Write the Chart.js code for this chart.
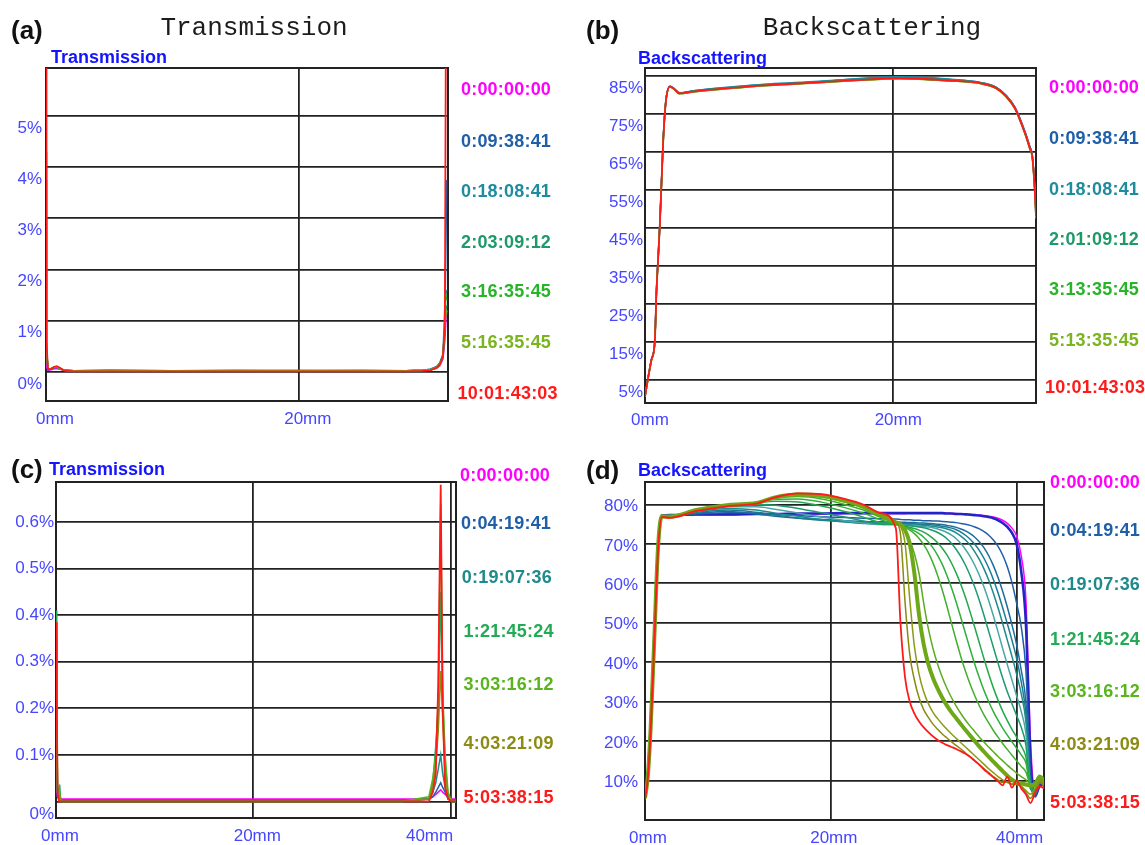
<!DOCTYPE html>
<html>
<head>
<meta charset="utf-8">
<title>Transmission and Backscattering profiles</title>
<script src="https://cdn.jsdelivr.net/npm/chart.js@4.4.1/dist/chart.umd.min.js"></script>
<style>
  html, body { margin:0; padding:0; background:#ffffff; }
  body { position:relative; width:1145px; height:845px; overflow:hidden; font-family:"Liberation Sans", Arial, sans-serif; }
  canvas { position:absolute; }
  .txt { position:absolute; white-space:nowrap; line-height:1; transform:translateY(-50%); }
  .big { font-family:"Liberation Mono", "DejaVu Sans Mono", monospace; font-size:26px; color:#1c1c1c; transform:translate(-50%,-50%); }
  .letter { font-weight:bold; font-size:26px; color:#111111; }
  .sub { font-weight:bold; font-size:18px; color:#1414ff; }
  .leg { font-weight:bold; font-size:18px; letter-spacing:0.2px; }
</style>
</head>
<body>
<canvas id="cA" width="570" height="440" style="left:0px;top:0px"></canvas>
<canvas id="cB" width="575" height="440" style="left:570px;top:0px"></canvas>
<canvas id="cC" width="570" height="405" style="left:0px;top:440px"></canvas>
<canvas id="cD" width="575" height="405" style="left:570px;top:440px"></canvas>
<script>
// ===================== DATA =====================
// ---- Panel (a): Transmission (%), position in mm ----
const posA = [0, 0.04, 0.15, 0.4, 0.65, 0.85, 1.1, 1.4, 2.2, 5, 10, 15, 20, 25, 28.5, 29.8, 30.4, 30.9, 31.15, 31.4, 31.55, 31.63, 31.7];
const transA_t0 = [0.3, 0.1, 0.03, 0.04, 0.06, 0.06, 0.05, 0.03, 0.02, 0.02, 0.02, 0.02, 0.02, 0.02, 0.02, 0.03, 0.04, 0.07, 0.12, 0.25, 0.6, 1.0, 1.2];
const transA_t1 = [4.3, 0.4, 0.04, 0.05, 0.08, 0.09, 0.07, 0.03, 0.02, 0.03, 0.02, 0.03, 0.02, 0.03, 0.02, 0.03, 0.05, 0.1, 0.16, 0.32, 0.8, 2.4, 3.75];
const transA_t2 = [3.75, 0.5, 0.05, 0.06, 0.09, 0.1, 0.07, 0.03, 0.02, 0.03, 0.02, 0.02, 0.03, 0.02, 0.02, 0.03, 0.05, 0.1, 0.18, 0.35, 1.28, 1.5, 1.6];
const transA_t3 = [3.0, 0.5, 0.05, 0.06, 0.09, 0.1, 0.07, 0.03, 0.02, 0.02, 0.02, 0.02, 0.02, 0.02, 0.02, 0.03, 0.04, 0.09, 0.15, 0.3, 0.9, 1.2, 1.3];
const transA_t4 = [2.0, 0.5, 0.05, 0.06, 0.1, 0.1, 0.07, 0.03, 0.02, 0.02, 0.02, 0.02, 0.02, 0.02, 0.02, 0.03, 0.04, 0.09, 0.15, 0.3, 0.9, 1.5, 1.4];
const transA_t5 = [1.0, 0.5, 0.05, 0.06, 0.1, 0.1, 0.07, 0.03, 0.02, 0.02, 0.02, 0.02, 0.02, 0.02, 0.02, 0.03, 0.04, 0.08, 0.14, 0.3, 0.9, 1.1, 1.2];
const transA_t6 = [6.5, 0.6, 0.05, 0.06, 0.1, 0.11, 0.08, 0.03, 0.01, 0.01, 0.01, 0.01, 0.01, 0.01, 0.01, 0.02, 0.03, 0.08, 0.14, 0.3, 0.9, 6.5, 6.5];
const timesA = ['0:00:00:00', '0:09:38:41', '0:18:08:41', '2:03:09:12', '3:16:35:45', '5:16:35:45', '10:01:43:03'];
const yTicksA = [0, 1, 2, 3, 4, 5];
const yLabelsA = ['0%', '1%', '2%', '3%', '4%', '5%'];
const xTicksA = [0, 20];
const xLabelsA = ['0mm', '20mm'];

// ---- Panel (b): Backscattering (%), position in mm ----
const posB = [0, 0.25, 0.52, 0.79, 0.92, 1.06, 1.19, 1.33, 1.46, 1.6, 1.73, 2.0, 2.27, 2.8, 3.9, 6.8, 10, 14, 17, 20.5, 24.5, 27, 28.3, 29.1, 29.8, 30.6, 31.0, 31.2, 31.4, 31.5];
const backB_t0 = [0.8, 5.8, 10.5, 15.3, 28.5, 37.5, 46, 57.5, 68, 75.6, 79.8, 82.3, 81.9, 80.5, 81.0, 81.9, 82.6, 83.4, 84.0, 84.5, 83.9, 83.2, 81.9, 79.8, 76.8, 70.5, 66.5, 64.2, 56.0, 50.5];
const backB_t1 = [0.7, 5.6, 10.4, 15.2, 28.0, 37.2, 45.6, 57.0, 67.6, 75.4, 79.7, 82.3, 81.9, 80.5, 81.1, 82.0, 82.8, 83.5, 84.2, 84.7, 84.1, 83.3, 82.0, 79.8, 76.7, 70.3, 66.3, 64.0, 55.5, 49.0];
const backB_t2 = [0.7, 5.6, 10.4, 15.2, 28.2, 37.4, 45.8, 57.2, 67.8, 75.5, 79.7, 82.2, 81.9, 80.6, 81.1, 82.1, 82.9, 83.6, 84.3, 84.8, 84.2, 83.3, 82.0, 79.9, 76.8, 70.4, 66.4, 64.1, 55.8, 49.5];
const backB_t3 = [0.6, 5.5, 10.3, 15.1, 28.0, 37.2, 45.6, 57.0, 67.5, 75.3, 79.6, 82.2, 81.8, 80.5, 81.0, 81.9, 82.7, 83.4, 84.0, 84.5, 83.9, 83.2, 81.9, 79.7, 76.6, 70.2, 66.2, 63.9, 55.2, 48.5];
const backB_t4 = [0.6, 5.4, 10.2, 15.0, 27.6, 36.8, 45.2, 56.6, 67.1, 75.1, 79.5, 82.1, 81.7, 80.3, 80.8, 81.7, 82.5, 83.2, 83.8, 84.3, 83.7, 83.0, 81.7, 79.5, 76.4, 69.9, 65.8, 63.6, 54.6, 47.5];
const backB_t5 = [0.6, 5.4, 10.2, 15.0, 27.7, 36.9, 45.3, 56.7, 67.2, 75.1, 79.5, 82.1, 81.7, 80.3, 80.8, 81.7, 82.5, 83.2, 83.8, 84.3, 83.7, 83.0, 81.7, 79.5, 76.4, 69.9, 65.9, 63.7, 54.8, 47.8];
const backB_t6 = [0.6, 5.5, 10.3, 15.1, 27.8, 37.0, 45.4, 56.8, 67.3, 75.2, 79.6, 82.2, 81.8, 80.4, 80.9, 81.8, 82.6, 83.3, 83.9, 84.4, 83.8, 83.1, 81.8, 79.6, 76.5, 70.0, 66.0, 63.8, 55.0, 48.0];
const timesB = ['0:00:00:00', '0:09:38:41', '0:18:08:41', '2:01:09:12', '3:13:35:45', '5:13:35:45', '10:01:43:03'];
const yTicksB = [5, 15, 25, 35, 45, 55, 65, 75, 85];
const yLabelsB = ['5%', '15%', '25%', '35%', '45%', '55%', '65%', '75%', '85%'];
const xTicksB = [0, 20];
const xLabelsB = ['0mm', '20mm'];

// ---- Panel (c): Transmission (%), position in mm ----
const posC = [0, 0.08, 0.16, 0.3, 0.37, 0.45, 0.6, 5, 15, 25, 35, 37.8, 38.2, 38.5, 38.75, 39.0, 39.2, 39.45, 39.75, 40.1, 40.55];
const transC_t0 = [0.05, 0.02, 0.01, 0.005, 0.005, 0.005, 0.005, 0.005, 0.005, 0.005, 0.005, 0.005, 0.01, 0.015, 0.02, 0.025, 0.02, 0.015, 0.01, 0.005, 0.005];
const transC_t1 = [0.1, 0.04, 0.01, 0.005, 0.005, 0.005, 0.003, 0.003, 0.003, 0.003, 0.003, 0.005, 0.01, 0.02, 0.03, 0.04, 0.03, 0.02, 0.005, 0.003, 0.003];
const transC_t2 = [0.2, 0.08, 0.02, 0.005, 0.005, 0.003, 0.002, 0.002, 0.002, 0.002, 0.002, 0.005, 0.02, 0.04, 0.07, 0.1, 0.06, 0.03, 0.01, 0.002, 0.002];
const transC_t3 = [0.41, 0.25, 0.03, 0.02, 0.036, 0.01, 0.0, 0.0, 0.0, 0.0, 0.0, 0.005, 0.04, 0.12, 0.2, 0.45, 0.22, 0.08, 0.01, 0.0, 0.0];
const transC_t4 = [0.3, 0.15, 0.02, 0.01, 0.02, 0.005, 0.0, 0.0, 0.0, 0.0, 0.0, 0.01, 0.05, 0.1, 0.22, 0.64, 0.24, 0.1, 0.02, 0.0, 0.0];
const transC_t5 = [0.35, 0.18, 0.02, 0.005, 0.01, 0.0, 0.0, 0.0, 0.0, 0.0, 0.0, 0.005, 0.03, 0.08, 0.15, 0.28, 0.18, 0.06, 0.01, 0.0, 0.0];
const transC_t6 = [0.385, 0.2, 0.02, 0.0, 0.0, 0.0, 0.0, 0.0, 0.0, 0.0, 0.0, 0.0, 0.02, 0.06, 0.25, 0.68, 0.2, 0.03, 0.005, 0.0, 0.0];
const timesCD = ['0:00:00:00', '0:04:19:41', '0:19:07:36', '1:21:45:24', '3:03:16:12', '4:03:21:09', '5:03:38:15'];
const yTicksC = [0, 0.1, 0.2, 0.3, 0.4, 0.5, 0.6];
const yLabelsC = ['0%', '0.1%', '0.2%', '0.3%', '0.4%', '0.5%', '0.6%'];
const xTicksC = [0, 20, 40];
const xLabelsC = ['0mm', '20mm', '40mm'];

// ---- Panel (d): Backscattering (%), position in mm (scans from first to last) ----
const posD = [0, 0.3, 0.6, 1.0, 1.4, 1.8, 2.7, 5.5, 9, 12, 14, 16.5, 19, 21.5, 23.5, 25.3,
  27, 27.5, 28, 28.5, 29, 29.5, 30, 30.5, 31, 31.5, 32, 32.5, 33, 33.5, 34, 34.5, 35, 35.5, 36, 36.5, 37, 37.5, 38, 38.5, 39, 39.5, 40, 40.5, 41, 41.5, 42, 42.5, 43];
const backD_s01 = [5.8, 11.3, 23, 46, 69, 77.2, 77.3, 77.4, 77.4, 77.5, 77.5, 77.6, 77.6, 77.7, 77.7, 77.7,
  77.7, 77.7, 77.7, 77.8, 77.8, 77.8, 77.8, 77.8, 77.8, 77.8, 77.8, 77.8, 77.7, 77.7, 77.6, 77.6, 77.5, 77.4, 77.3, 77.2, 77.0, 76.8, 76.5, 76.0, 75.2, 74.0, 72.0, 67.0, 56.0, 20.0, 7.0, 8.5, 9.0];
const backD_s02 = [5.8, 11.3, 23, 46, 69, 77.2, 77.3, 77.5, 77.5, 77.6, 77.6, 77.7, 77.7, 77.8, 77.8, 77.8,
  77.8, 77.8, 77.8, 77.8, 77.8, 77.8, 77.8, 77.8, 77.8, 77.8, 77.8, 77.7, 77.7, 77.6, 77.6, 77.5, 77.4, 77.3, 77.2, 77.0, 76.8, 76.5, 76.0, 75.3, 74.3, 72.8, 70.0, 63.0, 50.0, 15.0, 6.0, 8.8, 9.2];
const backD_s03 = [5.8, 11.3, 23, 46, 69, 77.2, 77.3, 77.6, 77.9, 77.8, 77.5, 77.2, 76.9, 76.7, 76.5, 76.4,
  76.3, 76.2, 76.1, 76.1, 76.0, 76.0, 75.9, 75.9, 75.8, 75.8, 75.7, 75.6, 75.5, 75.4, 75.2, 75.0, 74.7, 74.3, 73.8, 73.1, 72.2, 71.0, 69.4, 67.2, 64.2, 60.2, 55.0, 49.0, 38.0, 12.0, 6.0, 9.2, 9.5];
const backD_s04 = [5.8, 11.3, 23, 46, 69, 77.2, 77.3, 77.8, 78.2, 77.6, 77.0, 76.5, 76.2, 75.9, 75.7, 75.6,
  75.6, 75.5, 75.5, 75.4, 75.4, 75.3, 75.3, 75.2, 75.1, 75.0, 74.9, 74.7, 74.5, 74.2, 73.8, 73.3, 72.6, 71.7, 70.5, 69.0, 67.0, 64.5, 61.5, 58.0, 54.0, 49.5, 44.5, 38.0, 30.0, 10.0, 6.5, 9.5, 9.3];
const backD_s05 = [5.7, 11.2, 23, 46, 69, 77.1, 77.2, 78.0, 78.6, 78.0, 77.3, 76.6, 76.0, 75.6, 75.4, 75.3,
  75.3, 75.2, 75.2, 75.1, 75.1, 75.0, 75.0, 74.9, 74.8, 74.7, 74.5, 74.3, 74.0, 73.6, 73.0, 72.2, 71.2, 69.9, 68.3, 66.3, 63.9, 61.0, 57.6, 53.8, 49.8, 45.6, 41.0, 35.0, 27.0, 9.0, 6.5, 9.8, 9.2];
const backD_s06 = [5.7, 11.2, 23, 46, 69, 77.1, 77.2, 78.2, 79.0, 78.6, 77.8, 77.0, 76.2, 75.6, 75.2, 75.0,
  75.0, 75.0, 74.9, 74.9, 74.8, 74.8, 74.7, 74.6, 74.5, 74.3, 74.1, 73.8, 73.4, 72.8, 72.0, 71.0, 69.7, 68.0, 66.0, 63.6, 60.8, 57.5, 53.8, 49.8, 45.6, 41.5, 37.0, 32.0, 25.0, 8.5, 6.8, 10.0, 9.0];
const backD_s07 = [5.7, 11.2, 23, 46, 69, 77.1, 77.2, 78.3, 79.4, 79.4, 78.8, 77.8, 76.8, 75.9, 75.3, 74.9,
  74.9, 74.8, 74.8, 74.7, 74.6, 74.5, 74.4, 74.3, 74.1, 73.8, 73.4, 72.9, 72.2, 71.3, 70.1, 68.6, 66.8, 64.6, 62.0, 59.0, 55.6, 51.8, 47.7, 43.5, 39.4, 35.5, 31.5, 27.5, 22.0, 8.0, 7.0, 10.0, 9.0];
const backD_s08 = [5.6, 11, 23, 46, 69, 77.1, 77.1, 78.4, 79.6, 80.0, 79.8, 79.0, 77.9, 76.8, 75.8, 75.0,
  74.9, 74.8, 74.7, 74.6, 74.5, 74.3, 74.1, 73.8, 73.4, 72.9, 72.2, 71.3, 70.1, 68.6, 66.8, 64.6, 62.0, 59.0, 55.6, 51.8, 47.8, 43.8, 39.8, 36.0, 32.5, 29.5, 26.5, 23.5, 19.0, 8.0, 7.2, 10.2, 9.0];
const backD_s09 = [5.6, 11, 23, 46, 69, 77, 77, 78.5, 79.8, 80.4, 80.8, 80.6, 79.6, 78.2, 76.8, 75.4,
  74.9, 74.7, 74.5, 74.2, 73.9, 73.5, 73.0, 72.3, 71.4, 70.3, 68.9, 67.2, 65.1, 62.6, 59.7, 56.4, 52.7, 48.8, 44.8, 40.8, 37.0, 33.5, 30.4, 27.6, 25.2, 23.0, 21.0, 18.8, 16.0, 8.0, 7.5, 10.5, 9.2];
const backD_s10 = [5.6, 11, 23, 46, 69, 77, 77, 78.5, 79.8, 80.5, 81.3, 81.4, 80.6, 79.2, 77.8, 76.2,
  75.0, 74.7, 74.3, 73.9, 73.3, 72.6, 71.7, 70.5, 69.0, 67.1, 64.8, 62.0, 58.8, 55.2, 51.3, 47.3, 43.3, 39.5, 36.0, 32.8, 30.0, 27.5, 25.3, 23.3, 21.5, 19.8, 18.2, 16.5, 14.5, 8.5, 8.0, 10.8, 9.3];
const backD_s11 = [5.6, 11, 23, 46, 69, 77, 77, 78.6, 79.9, 80.5, 81.6, 82.0, 81.4, 80.0, 78.6, 76.8,
  75.2, 74.8, 74.2, 73.5, 72.6, 71.4, 69.8, 67.8, 65.2, 62.0, 58.3, 54.2, 49.8, 45.5, 41.4, 37.7, 34.4, 31.5, 28.9, 26.6, 24.6, 22.7, 21.0, 19.4, 17.9, 16.4, 15.0, 13.6, 12.2, 8.8, 8.5, 11.0, 9.5];
const backD_s12 = [5.5, 11, 23, 46, 69, 77, 76.9, 78.6, 79.9, 80.5, 81.7, 82.3, 81.9, 80.6, 79.1, 77.1,
  75.4, 74.6, 73.2, 71.0, 67.5, 62.5, 55.0, 48.5, 43.5, 39.5, 36.2, 33.4, 31.0, 28.9, 27.0, 25.3, 23.8, 22.4, 21.0, 19.7, 18.5, 17.3, 16.1, 15.0, 13.9, 12.9, 11.9, 11.0, 10.2, 9.0, 8.8, 11.0, 9.5];
const backD_s13 = [5.5, 11, 23, 46, 69, 77, 76.9, 78.6, 79.9, 80.4, 81.8, 82.5, 82.2, 80.9, 79.4, 77.3,
  75.5, 75.0, 73.5, 70.0, 62.5, 52.0, 44.5, 39.5, 36.0, 33.3, 31.0, 29.0, 27.3, 25.8, 24.3, 22.8, 21.4, 20.0, 18.6, 17.3, 16.0, 14.8, 13.6, 12.4, 11.2, 10.2, 9.6, 9.3, 9.0, 8.8, 9.2, 11.0, 10.0];
const backD_s14 = [5.5, 11, 23, 46, 69, 77, 76.8, 78.5, 79.8, 80.3, 81.9, 82.7, 82.4, 81.1, 79.6, 77.5,
  75.5, 74.5, 70.0, 56.0, 44.0, 37.0, 32.5, 29.5, 27.3, 25.7, 24.3, 23.0, 21.8, 20.7, 19.6, 18.5, 17.4, 16.3, 15.2, 14.1, 13.0, 12.0, 11.0, 10.2, 9.5, 9.2, 9.0, 8.6, 7.5, 6.5, 8.0, 10.0, 9.0];
const backD_s15 = [5.4, 10.8, 22.5, 45.5, 68.5, 76.9, 76.7, 78.4, 79.7, 80.2, 81.9, 82.8, 82.5, 81.3, 79.8, 77.7,
  75.6, 72.5, 55.0, 42.0, 35.5, 31.0, 28.0, 26.0, 24.3, 23.0, 21.8, 20.8, 19.8, 18.9, 18.0, 17.0, 16.0, 15.0, 14.0, 13.0, 12.0, 11.0, 10.2, 9.5, 9.6, 9.0, 9.2, 8.5, 7.0, 5.5, 7.5, 9.5, 8.5];
const backD_s16 = [5.2, 10.5, 22, 45, 68, 76.8, 76.6, 78.3, 79.6, 80.2, 81.8, 82.8, 82.6, 81.4, 80.0, 77.9,
  74.0, 50.0, 36.0, 30.0, 27.0, 25.0, 23.5, 22.3, 21.2, 20.3, 19.6, 19.0, 18.5, 18.0, 17.4, 16.8, 16.0, 15.0, 14.0, 12.8, 11.8, 10.8, 9.8, 8.8, 11.0, 8.2, 10.0, 8.0, 6.5, 4.3, 7.0, 8.5, 8.0];
const yTicksD = [10, 20, 30, 40, 50, 60, 70, 80];
const yLabelsD = ['10%', '20%', '30%', '40%', '50%', '60%', '70%', '80%'];
const xTicksD = [0, 20, 40];
const xLabelsD = ['0mm', '20mm', '40mm'];

// ===================== STYLE =====================
const TICK_BLUE = '#4646ff';
const GRID = '#222222';
const colorsAB = ['#ff00ff', '#1f5fa8', '#1e8c9c', '#1e9a6a', '#28b428', '#7ab41e', '#ff1a1a'];
const colorsCD = ['#ff00ff', '#1f5fa8', '#1e8a8a', '#22aa55', '#5ab41e', '#8c8c14', '#ff1a1a'];
const colorsD = ['#ff00ff', '#2323c8', '#1f5fa8', '#1d6c9c', '#1a7a92', '#1e8a8a', '#4aa6a6', '#1e9a72',
  '#22a84c', '#2eb03a', '#3fb02c', '#5cac20', '#6ea818', '#8c9a18', '#8a8a10', '#ff1a1a'];
const widthsD = [1.5, 2.6, 1.5, 1.5, 1.5, 1.5, 1.5, 1.5, 1.5, 1.5, 1.5, 1.5, 4, 1.5, 1.5, 1.8];
Chart.defaults.font.family = "'Liberation Sans', Arial, sans-serif";

const framePlugin = {
  id: 'frame',
  beforeDatasetsDraw(chart) {
    const a = chart.chartArea, ctx = chart.ctx;
    ctx.save();
    ctx.strokeStyle = GRID; ctx.lineWidth = 2;
    ctx.strokeRect(a.left, a.top, a.right - a.left, a.bottom - a.top);
    ctx.restore();
  }
};
function makeShift(shifts) {
  return {
    id: 'labelShift',
    beforeDraw(chart) {
      shifts.forEach(s => {
        try {
          const items = chart.scales[s.axis].getLabelItems();
          const it = items[s.index];
          if (it && it.options && it.options.translation) {
            it.options.translation[0] += s.dx;
            it.options.translation[1] += s.dy;
          }
        } catch (e) {}
      });
    }
  };
}

function buildPanel(id, p) {
  const datasets = p.series.map((ys, i) => ({
    data: p.xs.map((x, j) => ({ x: x, y: ys[j] })),
    borderColor: p.colors[i],
    borderWidth: p.widths[i],
    pointRadius: 0,
    fill: false,
    tension: 0,
    cubicInterpolationMode: p.smooth ? 'monotone' : 'default',
    order: p.series.length - 1 - i
  }));
  return new Chart(document.getElementById(id), {
    type: 'line',
    data: { datasets: datasets },
    options: {
      responsive: false, animation: false, devicePixelRatio: 1, events: [],
      layout: { padding: p.pad },
      plugins: { legend: { display: false }, tooltip: { enabled: false } },
      scales: {
        x: {
          type: 'linear', min: p.xMin, max: p.xMax,
          afterBuildTicks: s => { s.ticks = p.xTicks.map(v => ({ value: v })); },
          afterFit: s => { s.height = p.xH; },
          grid: { color: GRID, lineWidth: 1.8, drawTicks: false },
          border: { display: false },
          ticks: { autoSkip: false, maxRotation: 0, color: TICK_BLUE, font: { size: 17 },
                   padding: p.xPad, labelOffset: p.xOff, callback: (v, i) => p.xLabels[i] }
        },
        y: {
          type: 'linear', min: p.yMin, max: p.yMax,
          afterBuildTicks: s => { s.ticks = p.yTicks.map(v => ({ value: v })); },
          afterFit: s => { s.width = p.yW; },
          grid: { color: GRID, lineWidth: 1.8, drawTicks: false },
          border: { display: false },
          ticks: { autoSkip: false, color: TICK_BLUE, font: { size: 17 },
                   padding: p.yPad, labelOffset: p.yOff, callback: (v, i) => p.yLabels[i] }
        }
      }
    },
    plugins: [framePlugin, makeShift(p.shifts || [])]
  });
}

buildPanel('cA', {
  xs: posA, series: [transA_t0, transA_t1, transA_t2, transA_t3, transA_t4, transA_t5, transA_t6],
  colors: colorsAB, widths: [1.5, 1.5, 1.5, 1.5, 1.5, 1.5, 1.8], smooth: false,
  xMin: 0, xMax: 31.8, yMin: -0.57, yMax: 5.94,
  xTicks: xTicksA, xLabels: xLabelsA, yTicks: yTicksA, yLabels: yLabelsA,
  pad: { left: 0, right: 122, top: 68, bottom: 9 }, yW: 46, xH: 30,
  xPad: 8, xOff: 9, yPad: 4, yOff: 12
});
buildPanel('cB', {
  xs: posB, series: [backB_t0, backB_t1, backB_t2, backB_t3, backB_t4, backB_t5, backB_t6],
  colors: colorsAB, widths: [1.5, 1.5, 1.5, 1.5, 1.5, 1.5, 1.8], smooth: true,
  xMin: 0, xMax: 31.5, yMin: -1.05, yMax: 87.1,
  xTicks: xTicksB, xLabels: xLabelsB, yTicks: yTicksB, yLabels: yLabelsB,
  pad: { left: 0, right: 109, top: 68, bottom: 7 }, yW: 75, xH: 30,
  xPad: 7, xOff: 5, yPad: 2, yOff: 12
});
buildPanel('cC', {
  xs: posC, series: [transC_t0, transC_t1, transC_t2, transC_t3, transC_t4, transC_t5, transC_t6],
  colors: colorsCD, widths: [1.5, 1.5, 1.5, 1.5, 1.5, 1.5, 1.8], smooth: false,
  xMin: 0, xMax: 40.55, yMin: -0.0356, yMax: 0.686,
  xTicks: xTicksC, xLabels: xLabelsC, yTicks: yTicksC, yLabels: yLabelsC,
  pad: { left: 0, right: 114, top: 42, bottom: 0 }, yW: 56, xH: 27,
  xPad: 8, xOff: 4, yPad: 2, yOff: 0,
  shifts: [{ axis: 'x', index: 2, dx: -25, dy: 0 }, { axis: 'y', index: 0, dx: 0, dy: 13 }]
});
buildPanel('cD', {
  xs: posD, series: [backD_s01, backD_s02, backD_s03, backD_s04, backD_s05, backD_s06, backD_s07, backD_s08,
                     backD_s09, backD_s10, backD_s11, backD_s12, backD_s13, backD_s14, backD_s15, backD_s16],
  colors: colorsD, widths: widthsD, smooth: true,
  xMin: 0, xMax: 42.95, yMin: 0, yMax: 85.7,
  xTicks: xTicksD, xLabels: xLabelsD, yTicks: yTicksD, yLabels: yLabelsD,
  pad: { left: 0, right: 101, top: 42, bottom: 0 }, yW: 75, xH: 25,
  xPad: 8, xOff: 3, yPad: 7, yOff: 2
});

// ===================== TEXT (titles, panel letters, time legends) =====================
function addText(txt, x, y, cls, color) {
  const d = document.createElement('div');
  d.className = 'txt ' + cls;
  d.textContent = txt;
  d.style.left = x + 'px';
  d.style.top = y + 'px';
  if (color) d.style.color = color;
  document.body.appendChild(d);
}
addText('(a)', 11, 30, 'letter');
addText('(b)', 586, 30, 'letter');
addText('(c)', 11, 469, 'letter');
addText('(d)', 586, 470, 'letter');
addText('Transmission', 254, 28, 'big');
addText('Backscattering', 872, 28, 'big');
addText('Transmission', 51, 57, 'sub');
addText('Backscattering', 638, 58, 'sub');
addText('Transmission', 49, 469, 'sub');
addText('Backscattering', 638, 470, 'sub');

const legA = { xs: [461, 461, 461, 461, 461, 461, 457.5], ys: [89.3, 140.7, 190.7, 241.7, 291, 341.7, 393.3] };
const legB = { xs: [1049, 1049, 1049, 1049, 1049, 1049, 1045], ys: [87.3, 137.7, 189.3, 239, 289.3, 340, 386.7] };
const legC = { xs: [460, 461, 461.8, 463.6, 463.6, 463.6, 463.6], ys: [475, 522.7, 576.7, 631, 684.3, 743.3, 796.7] };
const legD = { xs: [1050, 1050, 1050, 1050, 1050, 1050, 1050], ys: [481.7, 530, 584, 639, 690.7, 744, 801.7] };
timesA.forEach((t, i) => addText(t, legA.xs[i], legA.ys[i], 'leg', colorsAB[i]));
timesB.forEach((t, i) => addText(t, legB.xs[i], legB.ys[i], 'leg', colorsAB[i]));
timesCD.forEach((t, i) => addText(t, legC.xs[i], legC.ys[i], 'leg', colorsCD[i]));
timesCD.forEach((t, i) => addText(t, legD.xs[i], legD.ys[i], 'leg', colorsCD[i]));
</script>
</body>
</html>
